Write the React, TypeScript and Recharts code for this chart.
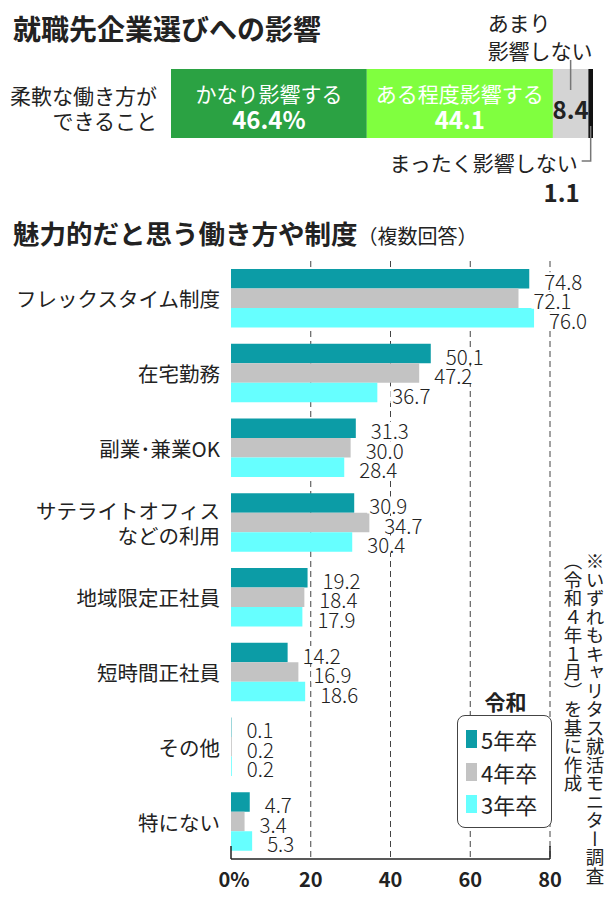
import React from 'react'
import { Bar, BarChart, CartesianGrid, LabelList, XAxis, YAxis } from 'recharts'

const FONT = '"Noto Sans CJK JP", "Noto Sans", sans-serif'

// 上段：就職先企業選びへの影響
const topCategory = '柔軟な働き方が\nできること'
const topKeys = ['strong', 'some', 'little', 'none']
const topNames = ['かなり影響する', 'ある程度影響する', 'あまり影響しない', 'まったく影響しない']
const topValues = [46.4, 44.1, 8.4, 1.1]
const topColors = ['#2ba243', '#80ff3f', '#d4d4d4', '#111111']

// 下段：魅力的だと思う働き方や制度（複数回答）
const categories = [
    'フレックスタイム制度',
    '在宅勤務',
    '副業･兼業OK',
    'サテライトオフィス\nなどの利用',
    '地域限定正社員',
    '短時間正社員',
    'その他',
    '特にない',
]
const seriesKeys = ['r5', 'r4', 'r3']
const seriesNames = ['5年卒', '4年卒', '3年卒']
const seriesColors = ['#0c9ca6', '#c3c3c3', '#66ffff']
const reiwa5 = [74.8, 50.1, 31.3, 30.9, 19.2, 14.2, 0.1, 4.7]
const reiwa4 = [72.1, 47.2, 30.0, 34.7, 18.4, 16.9, 0.2, 3.4]
const reiwa3 = [76.0, 36.7, 28.4, 30.4, 17.9, 18.6, 0.2, 5.3]
const xTicks = [0, 20, 40, 60, 80]

const topData = [
    topKeys.reduce((row: any, k, i) => ({ ...row, [k]: topValues[i] }), { name: topCategory }),
]
const data = categories.map((name, i) => ({ name, r5: reiwa5[i], r4: reiwa4[i], r3: reiwa3[i] }))

const TopTick = (props: any) => {
    const { x, y, payload } = props
    const lines = String(payload.value).split('\n')
    return (
        <g>
            {lines.map((l, i) => (
                <text key={i} x={x - 14} y={y - 9 + i * 25} textAnchor="end" dominantBaseline="central"
                    fontSize={21} fill="#222" fontFamily={FONT}>{l}</text>
            ))}
        </g>
    )
}

const renderTopLabel = (i: number) => (props: any) => {
    const { x, y, width, height, value } = props
    const cx = x + width / 2
    const cy = y + height / 2
    if (i < 2) {
        return (
            <g fontFamily={FONT} fill="#fff">
                <text x={cx} y={cy - 11} textAnchor="middle" dominantBaseline="central" fontSize={21}>{topNames[i]}</text>
                <text x={cx} y={cy + 15} textAnchor="middle" dominantBaseline="central" fontSize={24} fontWeight="bold">
                    {i === 0 ? `${value}%` : value}
                </text>
            </g>
        )
    }
    if (i === 2) {
        return (
            <g fontFamily={FONT} fill="#222">
                <line x1={cx} x2={cx} y1={y - 9} y2={y + 21} stroke="#777" strokeWidth={1.5} />
                <text x={cx} y={cy + 5} textAnchor="middle" dominantBaseline="central" fontSize={24} fontWeight="bold">{value}</text>
                <text x={cx - 83} y={y - 47} dominantBaseline="central" fontSize={21}>あまり</text>
                <text x={cx - 83} y={y - 19} dominantBaseline="central" fontSize={21}>影響しない</text>
            </g>
        )
    }
    const bottom = y + height
    return (
        <g fontFamily={FONT} fill="#222">
            <polyline points={`${cx},${bottom - 12} ${cx},${bottom + 23} ${cx - 9},${bottom + 23}`}
                fill="none" stroke="#777" strokeWidth={1.5} />
            <text x={cx - 13} y={bottom + 24} textAnchor="end" dominantBaseline="central" fontSize={21}>{topNames[3]}</text>
            <text x={cx - 29} y={bottom + 53} textAnchor="middle" dominantBaseline="central" fontSize={24} fontWeight="bold">{value}</text>
        </g>
    )
}

const CatTick = (props: any) => {
    const { x, y, payload } = props
    const lines = String(payload.value).split('\n')
    const start = y - ((lines.length - 1) * 25) / 2
    return (
        <g>
            {lines.map((l, i) => (
                <text key={i} x={x - 11} y={start + i * 25} textAnchor="end" dominantBaseline="central"
                    fontSize={20.5} fill="#222" fontFamily={FONT}>{l}</text>
            ))}
        </g>
    )
}

const XTick = (props: any) => {
    const { x, y, payload } = props
    const v = payload.value
    const edge = v === xTicks[0] || v === xTicks[xTicks.length - 1]
    return (
        <g>
            {edge && <line x1={x} x2={x} y1={y} y2={y - 13} stroke="#222" strokeWidth={1.5} />}
            <text x={v === 0 ? x + 3 : x} y={y + 19} textAnchor="middle" dominantBaseline="central"
                fontSize={20} fontWeight="bold" fill="#222" fontFamily={FONT}>{v === 0 ? '0%' : v}</text>
        </g>
    )
}

// 値ラベル（背景を白で抜いて破線を隠す）
const LABEL_SIZE = 20.5
const valueLabel = (props: any) => {
    const { x, y, width, height, value } = props
    const txt = Number(value).toFixed(1)
    const tx = x + width + 15
    const ty = y + height / 2 + 2
    const w = (txt.length - 1) * LABEL_SIZE * 0.55 + LABEL_SIZE * 0.27
    return (
        <g>
            <rect x={tx - 2} y={ty - 8.5} width={w + 4} height={17} fill="#fff" />
            <text x={tx} y={ty} dominantBaseline="central" fontSize={LABEL_SIZE}
                fontWeight={300} fill="#222" fontFamily={FONT}>
                {txt}
            </text>
        </g>
    )
}

export default function App() {
    return (
        <div style={{ position: 'absolute', left: 0, top: 0, width: 615, height: 899, background: '#fff', fontFamily: FONT, color: '#222' }}>
            <div style={{ position: 'absolute', left: 13, top: 13, fontSize: 28, fontWeight: 'bold', lineHeight: '30px', whiteSpace: 'nowrap' }}>
                就職先企業選びへの影響
            </div>
            <div style={{ position: 'absolute', left: 0, top: 0 }}>
                <BarChart width={615} height={210} layout="vertical" data={topData}
                    margin={{ top: 69, right: 22, bottom: 72, left: 0 }} barCategoryGap={0}>
                    <XAxis type="number" domain={[0, 100]} hide />
                    <YAxis type="category" dataKey="name" width={171} axisLine={false} tickLine={false}
                        tickSize={0} tickMargin={0} tick={TopTick} />
                    {topKeys.map((k, i) => (
                        <Bar key={k} dataKey={k} name={topNames[i]} stackId="a" fill={topColors[i]} isAnimationActive={false}>
                            <LabelList dataKey={k} content={renderTopLabel(i)} />
                        </Bar>
                    ))}
                </BarChart>
            </div>

            <div style={{ position: 'absolute', left: 13, top: 218, whiteSpace: 'nowrap', lineHeight: '30px' }}>
                <span style={{ fontSize: 26.5, fontWeight: 'bold' }}>魅力的だと思う働き方や制度</span>
                <span style={{ fontSize: 20 }}>（複数回答）</span>
            </div>
            <div style={{ position: 'absolute', left: 0, top: 250 }}>
                <BarChart width={615} height={649} layout="vertical" data={data}
                    margin={{ top: 11, right: 65, bottom: 0, left: 0 }} barGap={0} barSize={19.5}>
                    <CartesianGrid horizontal={false} verticalValues={[20, 40, 60, 80]} strokeDasharray="6 4" stroke="#444" />
                    <XAxis type="number" domain={[0, 80]} ticks={xTicks} height={40} tickSize={0} tickMargin={0}
                        axisLine={{ stroke: '#222', strokeWidth: 1.5 }} tickLine={false} tick={XTick} interval={0} />
                    <YAxis type="category" dataKey="name" width={231} axisLine={false} tickLine={false}
                        tickSize={0} tickMargin={0} tick={CatTick} interval={0} />
                    {seriesKeys.map((k, i) => (
                        <Bar key={k} dataKey={k} name={seriesNames[i]} fill={seriesColors[i]} isAnimationActive={false}>
                            <LabelList dataKey={k} content={valueLabel} />
                        </Bar>
                    ))}
                </BarChart>
            </div>

            <div style={{ position: 'absolute', left: 457, top: 689, width: 97, textAlign: 'center', fontSize: 21, fontWeight: 'bold', lineHeight: '24px' }}>
                令和
            </div>
            <div style={{ position: 'absolute', left: 457, top: 715, width: 95, height: 113, boxSizing: 'border-box',
                border: '1.5px solid #444', borderRadius: 8, background: '#fff' }}>
                {seriesNames.map((n, i) => (
                    <div key={n} style={{ position: 'absolute', left: 8, top: 14 + i * 32.5, height: 18, display: 'flex', alignItems: 'center' }}>
                        <span style={{ width: 11, height: 18, background: seriesColors[i], display: 'inline-block' }} />
                        <span style={{ marginLeft: 4, fontSize: 22, lineHeight: '18px' }}>{n}</span>
                    </div>
                ))}
            </div>

            <div style={{ position: 'absolute', left: 562, top: 552, writingMode: 'vertical-rl', fontSize: 18.5,
                lineHeight: '22px', whiteSpace: 'nowrap', color: '#222' }}>
                ※いずれもキャリタス就活モニター調査<br />（令和４年１月）を基に作成
            </div>
        </div>
    )
}
